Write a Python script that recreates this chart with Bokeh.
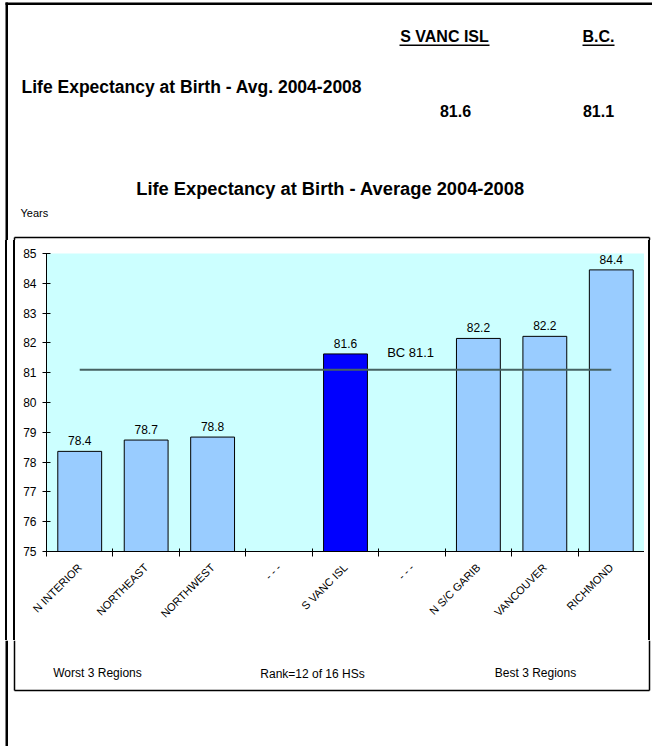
from math import pi
from bokeh.plotting import figure
from bokeh.layouts import column, row
from bokeh.models import Range1d, FixedTicker, Label, LabelSet, ColumnDataSource, Div
from bokeh.core.properties import value
from bokeh.embed import file_html
from bokeh.resources import INLINE

# ---- data ----
categories = ["N INTERIOR", "NORTHEAST", "NORTHWEST", "- - -", "S VANC ISL",
              "- - -", "N S/C GARIB", "VANCOUVER", "RICHMOND"]
values = [78.36, 78.74, 78.84, None, 81.63, None, 82.15, 82.22, 84.45]
value_labels = ["78.4", "78.7", "78.8", "", "81.6", "", "82.2", "82.2", "84.4"]
highlight = "S VANC ISL"
bc_value = 81.1
region_name = "S VANC ISL"
region_value = 81.6
y_ticks = [75, 76, 77, 78, 79, 80, 81, 82, 83, 84, 85]
group_notes = ["Worst 3 Regions", "Rank=12 of 16 HSs", "Best 3 Regions"]

FONT = "Liberation Sans"
W, H = 652, 746
HEAD_H = 240          # header block height
MID_H = 400           # chart row height
LEFT_W, RIGHT_W = 15, 8
BOX_L, BOX_R, BOX_T, BOX_B = 14, 649, 237, 690


def pix_fig(x0, y0, w, h):
    """A figure whose data coordinates are page pixels (y downwards)."""
    f = figure(width=w, height=h, output_backend="svg", toolbar_location=None,
               x_range=Range1d(x0, x0 + w), y_range=Range1d(y0 + h, y0),
               x_axis_location=None, y_axis_location=None,
               min_border=0, min_border_left=0, min_border_right=0,
               min_border_top=0, min_border_bottom=0)
    f.outline_line_color = None
    f.background_fill_color = "white"
    f.border_fill_color = "white"
    f.xgrid.visible = False
    f.ygrid.visible = False
    return f


def outer_left(f, y0, y1):
    f.quad(left=5, right=7.5, top=y0, bottom=y1, fill_color="black", line_color=None)


def vline(f, x, y0, y1, lw=1.5):
    f.segment(x0=[x], y0=[y0], x1=[x], y1=[y1], line_color="black", line_width=lw)


def hline(f, x0, x1, y, lw=1.5):
    f.segment(x0=[x0], y0=[y], x1=[x1], y1=[y], line_color="black", line_width=lw)


def text(f, x, y, t, size, bold=False, align="left"):
    f.add_layout(Label(x=x, y=y, text=t, text_align=align, text_baseline="middle",
                       text_font=FONT, text_font_size=size,
                       text_font_style="bold" if bold else "normal",
                       text_color="black"))


def stripes(x_left, w, h, bands):
    """Plain vertical rule lines (page decoration) for the chart row sides."""
    stops = ["white 0px"]
    for a, b in bands:
        a -= x_left
        b -= x_left
        stops += [f"white {a}px", f"black {a}px", f"black {b}px", f"white {b}px"]
    stops.append("white 100%")
    return Div(text="", width=w, height=h, margin=0, sizing_mode="fixed",
               styles={"background": "linear-gradient(to right, " + ", ".join(stops) + ")"})


# ---------------- header ----------------
head = pix_fig(0, 0, W, HEAD_H)
head.quad(left=5, right=W, top=2, bottom=4.5, fill_color="black", line_color=None)
outer_left(head, 2, HEAD_H)
hline(head, BOX_L, BOX_R, BOX_T)
vline(head, BOX_L, BOX_T, HEAD_H)
vline(head, BOX_R, BOX_T, HEAD_H)

text(head, 444, 36, region_name, "16px", bold=True, align="center")
head.quad(left=399, right=489, top=44, bottom=45.5, fill_color="black", line_color=None)
text(head, 598, 36, "B.C.", "16px", bold=True, align="center")
head.quad(left=582, right=614, top=44, bottom=45.5, fill_color="black", line_color=None)
text(head, 21, 86, "Life Expectancy at Birth - Avg. 2004-2008", "17.5px", bold=True)
text(head, 455, 110, f"{region_value}", "16px", bold=True, align="center")
text(head, 598, 110, f"{bc_value}", "16px", bold=True, align="center")
text(head, 330, 188, "Life Expectancy at Birth - Average 2004-2008", "18.3px",
     bold=True, align="center")
text(head, 20, 212, "Years", "11px")

# ---------------- chart row ----------------
left_strip = stripes(0, LEFT_W, MID_H, [(5, 7.5), (13.25, 14.75)])
right_strip = stripes(W - RIGHT_W, RIGHT_W, MID_H, [(BOX_R - 0.75, BOX_R + 0.75)])

n = len(categories)
centers = [i + 0.5 for i in range(n)]
CW = W - LEFT_W - RIGHT_W
p = figure(width=CW, height=MID_H, output_backend="svg", toolbar_location=None,
           x_range=Range1d(0, n), y_range=Range1d(y_ticks[0], y_ticks[-1]),
           min_border_left=46 - LEFT_W, min_border_right=0,
           min_border_top=253 - HEAD_H, min_border_bottom=HEAD_H + MID_H - 551)
p.background_fill_color = "#CCFFFF"
p.border_fill_color = "white"
p.outline_line_color = None
p.xgrid.visible = False
p.ygrid.visible = False

bx, btop, bcol = [], [], []
for c, x, v in zip(categories, centers, values):
    if v is None:
        continue
    bx.append(x)
    btop.append(v)
    bcol.append("#0000FF" if c == highlight else "#99CCFF")
p.vbar(x=bx, top=btop, bottom=y_ticks[0], width=0.66, fill_color=bcol,
       line_color="black", line_width=1)

lab_src = ColumnDataSource(dict(
    x=[x for x, v in zip(centers, values) if v is not None],
    y=[v for v in values if v is not None],
    t=[t for t, v in zip(value_labels, values) if v is not None]))
p.add_layout(LabelSet(x="x", y="y", text="t", source=lab_src, y_offset=6,
                      text_align="center", text_baseline="bottom",
                      text_font=value(FONT), text_font_size="12px",
                      text_color="black"))

p.segment(x0=[centers[0]], y0=[bc_value], x1=[centers[-1]], y1=[bc_value],
          line_color="#466262", line_width=2)
p.add_layout(Label(x=5.48, y=81.68, text=f"BC {bc_value}", text_align="center",
                   text_baseline="middle", text_font=FONT, text_font_size="13px",
                   text_color="black"))

xa = p.xaxis[0]
xa.ticker = FixedTicker(ticks=centers, minor_ticks=list(range(n + 1)))
xa.major_label_overrides = {x: c for x, c in zip(centers, categories)}
xa.major_tick_in = 0
xa.major_tick_out = 0
xa.minor_tick_in = 3
xa.minor_tick_out = 5
xa.minor_tick_line_color = "black"
xa.axis_line_color = "black"
xa.major_label_orientation = pi / 4
xa.major_label_standoff = 9
xa.major_label_text_font = FONT
xa.major_label_text_font_size = "11px"
xa.major_label_text_color = "black"

ya = p.yaxis[0]
ya.ticker = FixedTicker(ticks=y_ticks)
ya.major_tick_in = 4
ya.major_tick_out = 4
ya.minor_tick_line_color = None
ya.axis_line_color = "black"
ya.major_tick_line_color = "black"
ya.major_label_standoff = 6
ya.major_label_text_font = FONT
ya.major_label_text_font_size = "12px"
ya.major_label_text_color = "black"

# ---------------- footer ----------------
FOOT_Y = HEAD_H + MID_H
foot = pix_fig(0, FOOT_Y, W, H - FOOT_Y)
outer_left(foot, FOOT_Y, H)
vline(foot, BOX_L, FOOT_Y, BOX_B)
vline(foot, BOX_R, FOOT_Y, BOX_B)
hline(foot, BOX_L, BOX_R, BOX_B)
text(foot, 97, 672, group_notes[0], "12px", align="center")
text(foot, 312, 673, group_notes[1], "12px", align="center")
text(foot, 535, 672, group_notes[2], "12px", align="center")

layout = column(head, row(left_strip, p, right_strip, spacing=0), foot, spacing=0)
open("out.html", "w").write(file_html(layout, INLINE))
